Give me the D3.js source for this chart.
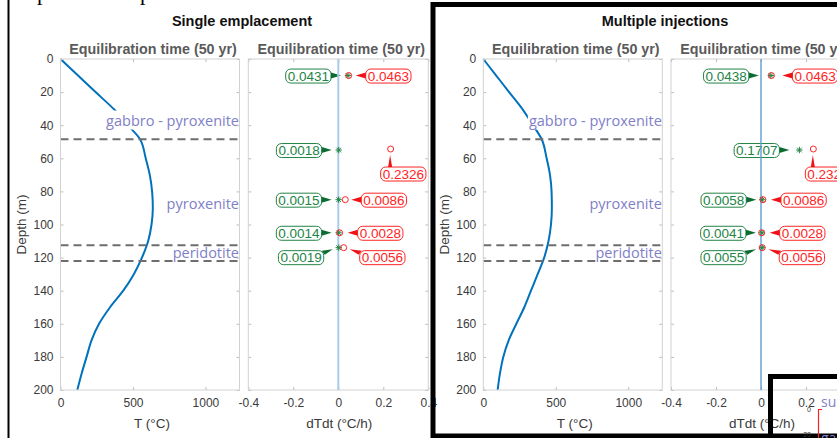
<!DOCTYPE html>
<html><head><meta charset="utf-8">
<script src="https://cdn.jsdelivr.net/npm/d3@7"></script>
<style>body{margin:0;background:#fff}svg{display:block}</style>
</head><body>
<script>
// ---------------- data ----------------
const depthGrid     = [0,10,20,31,40,48.5,60,70,80,90,100,110,120,130,140,150,160,170,180,190,200];
const tempSingle    = [0,121,242,376,465,549,588,616,632,637,628,605,562,506,433,342,266,214,180,146,116];
const tempMultiple  = [0,89,178,276,343,403,437,460,471,473,467,450,420,375,329,283,228,175,138,115,99];
const interfaces    = [48.5,112.5,122];
const lithoNames    = ["gabbro - pyroxenite","pyroxenite","peridotite"];
const lithoDepths   = [40.2,90.6,120.5];
const sampleDepths  = [10,55,85,105,114];
const singleGreen   = [0.0431,0.0018,0.0015,0.0014,0.0019];
const singleRed     = [0.0463,0.2326,0.031,0.006,0.024];
const singleGreenLbl= ["0.0431","0.0018","0.0015","0.0014","0.0019"];
const singleRedLbl  = ["0.0463","0.2326","0.0086","0.0028","0.0056"];
const multiGreen    = [0.0438,0.1707,0.0058,0.0041,0.0055];
const multiRed      = [0.0463,0.2326,0.0086,0.0028,0.0056];
const multiGreenLbl = ["0.0438","0.1707","0.0058","0.0041","0.0055"];
const multiRedLbl   = ["0.0463","0.2326","0.0086","0.0028","0.0056"];
const tTicks        = [0,500,1000];
const dTicks        = [-0.4,-0.2,0,0.2,0.4];
const depthTicks    = [0,20,40,60,80,100,120,140,160,180,200];

// ---------------- layout ----------------
const W=837,H=438;
const FONT='"Liberation Sans", Arial, Helvetica, sans-serif';
const LFONT='"Open Sans", "Noto Sans", sans-serif';
const GREEN='#238446', GREEN_P='#0c6b30', RED='#ff2424', RED_P='#ee1118';
const LITHO='#8080c8';
const svg=d3.select('body').append('svg').attr('width',W).attr('height',H);
const y=d3.scaleLinear().domain([0,200]).range([59,390]);

const panels=[
 {title:"Single emplacement", titleX:242, tRange:[60.5,239.5], dRange:[248.3,428.3],
  temps:tempSingle, green:singleGreen, red:singleRed, gLbl:singleGreenLbl, rLbl:singleRedLbl,
  zeroColor:'#a9cbe8', zeroW:2,
  gPlace:['left','left','left','left','belowLeft'], rPlace:['right','below','right','right','belowRight'],
  gGap:[17,17,17,17,15], rGap:[17,10,16,18,16]},
 {title:"Multiple injections", titleX:665, tRange:[483.3,662.3], dRange:[671,851],
  temps:tempMultiple, green:multiGreen, red:multiRed, gLbl:multiGreenLbl, rLbl:multiRedLbl,
  zeroColor:'#5f9dd3', zeroW:1.4,
  gPlace:['left','left','left','left','belowLeft'], rPlace:['right','below','right','right','belowRight'],
  gGap:[22,20,16,16,16], rGap:[21,8,18,18,17]}
];

function frame(g,x,ticksX,fmt,yLabels){
  const [x0,x1]=x.range(), [y0,y1]=y.range();
  const tc='#bdbdbd';
  const ax=[
    d3.axisBottom(x).tickValues(ticksX).tickSize(-3).tickPadding(8).tickFormat(fmt),
    d3.axisTop(x).tickValues(ticksX).tickSize(-3).tickFormat(''),
    d3.axisLeft(y).tickValues(depthTicks).tickSize(-3).tickPadding(7).tickFormat(yLabels?d3.format('d'):''),
    d3.axisRight(y).tickValues(depthTicks).tickSize(-3).tickFormat('')
  ];
  const tr=[`translate(0,${y1})`,`translate(0,${y0})`,`translate(${x0},0)`,`translate(${x1},0)`];
  ax.forEach((a,i)=>{
    const s=g.append('g').attr('transform',tr[i]).call(a);
    s.select('.domain').remove();
    s.selectAll('line').attr('stroke',tc);
    s.selectAll('text').attr('font-family',FONT).attr('font-size',12).attr('fill','#3a3a3a');
  });
  g.append('rect').attr('x',x0).attr('y',y0).attr('width',x1-x0).attr('height',y1-y0)
    .attr('fill','none').attr('stroke','#d2d2d2').attr('stroke-width',1);
}

function axTitle(g,x){
  const [x0,x1]=x.range();
  g.append('text').attr('x',(x0+x1)/2+3).attr('y',53.5).attr('text-anchor','middle')
   .attr('font-family',FONT).attr('font-weight','bold').attr('font-size',14.3).attr('fill','#5a5a5a')
   .text('Equilibration time (50 yr)');
}

function starPath(r){const d=r*0.72;return `M${-r},0L${r},0M0,${-r}L0,${r}M${-d},${-d}L${d},${d}M${-d},${d}L${d},${-d}`;}

function callout(g,text,col,pcol,mx,my,place,gap){
  const t=g.append('text').attr('font-family',FONT).attr('font-size',13.5).attr('fill',col).text(text);
  const tw=t.node().getComputedTextLength();
  const bw=tw+4, bh=14;
  let bx,cy,pts;
  if(place==='left'){bx=mx-gap-bw;cy=my+0.5;const e=bx+bw;pts=[[e,cy-3.5],[e,cy+2.5],[mx-gap+10,my]];}
  else if(place==='right'){bx=mx+gap;cy=my+0.5;pts=[[bx,cy-3.5],[bx,cy+2.5],[mx+gap-10,my]];}
  else if(place==='below'){bx=mx-gap;cy=my+25;const top=cy-bh/2;pts=[[mx-2.5,top],[mx+1.5,top],[mx-0.5,my+6]];}
  else if(place==='belowLeft'){bx=mx-gap-bw;cy=my+10;const e=bx+bw;pts=[[e-2,cy-bh/2],[e+1,cy-3],[mx-6,my+1.5]];}
  else {bx=mx+gap;cy=my+10;pts=[[bx+2,cy-bh/2],[bx-1,cy-3],[mx+6,my+1.5]];}
  g.insert('rect','text:last-child').attr('x',bx).attr('y',cy-bh/2).attr('width',bw).attr('height',bh)
   .attr('rx',5).attr('fill','#fff').attr('stroke',col).attr('stroke-width',1);
  g.append('polygon').attr('points',pts.map(p=>p.join(',')).join(' ')).attr('fill',pcol);
  t.attr('x',bx+2).attr('y',cy+4.8);
}

// top serif text fragments (descenders of cut-off line)
svg.append('text').attr('x',37).attr('y',0).attr('font-family','"Liberation Serif", serif').attr('font-size',22).text('p');
svg.append('text').attr('x',140).attr('y',0).attr('font-family','"Liberation Serif", serif').attr('font-size',22).text('p');
// left page border
svg.append('line').attr('x1',8.5).attr('x2',8.5).attr('y1',0).attr('y2',H).attr('stroke','#000').attr('stroke-width',2);

panels.forEach(p=>{
  const g=svg.append('g');
  g.append('text').attr('x',p.titleX).attr('y',26).attr('text-anchor','middle').attr('font-family',FONT)
   .attr('font-weight','bold').attr('font-size',14.5).attr('fill','#111').text(p.title);
  const xT=d3.scaleLinear().domain([0,1235]).range(p.tRange);
  const xD=d3.scaleLinear().domain([-0.4,0.4]).range(p.dRange);

  // ---- temperature plot ----
  const gT=g.append('g');
  gT.append('path').datum(depthGrid.map((d,i)=>[p.temps[i],d]))
    .attr('d',d3.line().x(d=>xT(d[0])).y(d=>y(d[1])).curve(d3.curveMonotoneY))
    .attr('fill','none').attr('stroke','#0072BD').attr('stroke-width',2);
  lithoNames.forEach((n,i)=>{
    const t=gT.append('text').attr('x',p.tRange[1]-0.5).attr('y',y(lithoDepths[i])).attr('text-anchor','end')
      .attr('font-family',LFONT).attr('font-size',14.5).attr('fill',LITHO).text(n);
    const b=t.node().getBBox();
    gT.insert('rect','text:last-child').attr('x',b.x-1).attr('y',b.y).attr('width',b.width+1).attr('height',b.height).attr('fill','#fff');
  });
  interfaces.forEach(d=>{
    gT.append('line').attr('x1',p.tRange[0]).attr('x2',p.tRange[1]).attr('y1',y(d)).attr('y2',y(d))
      .attr('stroke','#6e6e6e').attr('stroke-width',2).attr('stroke-dasharray','8,5');
  });
  frame(gT,xT,tTicks,d3.format('d'),true);
  axTitle(gT,xT);
  gT.append('text').attr('x',(p.tRange[0]+p.tRange[1])/2+2).attr('y',428).attr('text-anchor','middle')
    .attr('font-family',FONT).attr('font-size',13.5).attr('fill','#3a3a3a').text('T (°C)');
  gT.append('text').attr('transform',`translate(${p.tRange[0]-34.5},${(y(0)+y(200))/2}) rotate(-90)`)
    .attr('text-anchor','middle').attr('font-family',FONT).attr('font-size',13.5).attr('fill','#3a3a3a').text('Depth (m)');

  // ---- dT/dt plot ----
  const gD=g.append('g');
  frame(gD,xD,dTicks,v=>v===0?'0':v.toFixed(1),false);
  axTitle(gD,xD);
  gD.append('text').attr('x',(p.dRange[0]+p.dRange[1])/2+1).attr('y',428).attr('text-anchor','middle')
    .attr('font-family',FONT).attr('font-size',13.5).attr('fill','#3a3a3a').text('dTdt (°C/h)');
  const gl=gD.append('g');
  sampleDepths.forEach((d,i)=>{
    callout(gl.append('g'),p.gLbl[i],GREEN,GREEN_P,xD(p.green[i]),y(d),p.gPlace[i],p.gGap[i]);
    callout(gl.append('g'),p.rLbl[i],RED,RED_P,xD(p.red[i]),y(d)-(p.rPlace[i]==='below'?1:0),p.rPlace[i],p.rGap[i]);
  });
  gD.append('line').attr('x1',xD(0)).attr('x2',xD(0)).attr('y1',y(0)).attr('y2',y(200))
    .attr('stroke',p.zeroColor).attr('stroke-width',p.zeroW);
  gD.selectAll('path.g').data(sampleDepths).join('path').attr('class','g')
    .attr('transform',(d,i)=>`translate(${xD(p.green[i])},${y(d)})`).attr('d',starPath(3.2))
    .attr('stroke',GREEN).attr('stroke-width',1).attr('fill','none');
  gD.selectAll('circle.r').data(sampleDepths).join('circle').attr('class','r')
    .attr('cx',(d,i)=>xD(p.red[i])).attr('cy',(d,i)=>y(d)-(i===1?1:0)).attr('r',3)
    .attr('stroke',RED).attr('stroke-width',1).attr('fill','none');
});

// right panel frame
svg.append('rect').attr('x',433).attr('y',4.5).attr('width',430).attr('height',431.5)
  .attr('fill','none').attr('stroke','#000').attr('stroke-width',5);
// inset (next figure) frame and visible fragments
const gi=svg.append('g');
gi.append('rect').attr('x',770.5).attr('y',376.5).attr('width',120).attr('height',120)
  .attr('fill','none').attr('stroke','#000').attr('stroke-width',5);
gi.append('text').attr('x',811).attr('y',412).attr('text-anchor','end').attr('font-family',FONT).attr('font-size',7).attr('fill','#333').text('0');
gi.append('text').attr('x',811).attr('y',437).attr('text-anchor','end').attr('font-family',FONT).attr('font-size',7).attr('fill','#333').text('20');
gi.append('path').attr('d','M822,409.5H818.5V438').attr('fill','none').attr('stroke','#ff2020').attr('stroke-width',1.2);
gi.append('text').attr('x',821).attr('y',407).attr('font-family',LFONT).attr('font-size',14).attr('fill',LITHO).text('surface');
gi.append('text').attr('x',821).attr('y',443).attr('font-family',LFONT).attr('font-size',14).attr('fill',LITHO).text('gabbro');
</script>
</body></html>
